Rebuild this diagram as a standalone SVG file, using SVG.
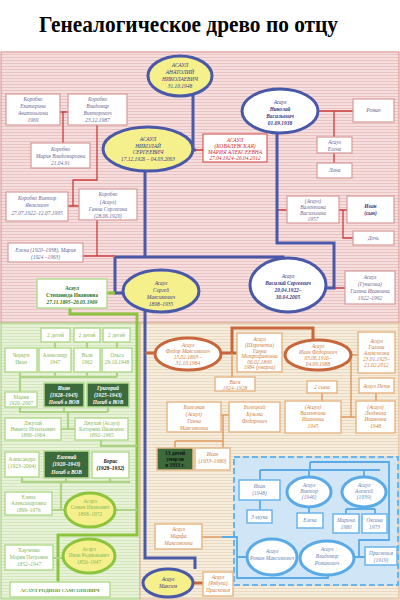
<svg xmlns="http://www.w3.org/2000/svg" width="400" height="600" viewBox="0 0 400 600">
<defs>
<pattern id="pk" width="4" height="3" patternUnits="userSpaceOnUse"><rect width="4" height="3" fill="#f6dede"/><rect width="4" height="1" fill="#e9c2c2"/></pattern>
<pattern id="gr" width="4" height="3" patternUnits="userSpaceOnUse"><rect width="4" height="3" fill="#e8f2d8"/><rect width="4" height="1" fill="#d4e6bc"/></pattern>
<pattern id="bg" width="4" height="3" patternUnits="userSpaceOnUse"><rect width="4" height="3" fill="#f6ecdc"/><rect width="4" height="1" fill="#eadac2"/></pattern>
</defs>
<style>
text{font-family:"Liberation Serif",serif;font-style:italic;font-size:5.4px;text-anchor:middle}
.db{fill:#3a3a88}.gy{fill:#6a6a96}.rd{fill:#cc2a2a}.gn{fill:#86b85a}.dk{fill:#2e7a2e;font-weight:bold}
.or{fill:#d08040}.ob2{fill:#b85a2a}.bl{fill:#6a88b8}.wt{fill:#ffffff;font-weight:bold}.bk{fill:#111;font-weight:bold}
.b{font-weight:bold}
.pb{fill:#fff;stroke:#d89a9a;stroke-width:1.2}
.rb{fill:#fff;stroke:#d04040;stroke-width:1}
.gb{fill:#fff;stroke:#b4dc90;stroke-width:1.5}
.dg{fill:#3c6a3c;stroke:#b4dc90;stroke-width:1.5}
.ob{fill:#fff;stroke:#e8b888;stroke-width:1.5}
.lb{fill:#fff;stroke:#6ab4ec;stroke-width:1.5}
.ye{fill:#f6f08c;stroke:#4a58a8;stroke-width:3}
.we{fill:#fff;stroke:#4a58a8;stroke-width:3}
.ge{fill:#f6f08c;stroke:#8cc43c;stroke-width:3}
.oe{fill:#fff;stroke:#c8663c;stroke-width:3}
.le{fill:#fff;stroke:#5aaae8;stroke-width:3}
.cb{fill:none;stroke:#4a58a8;stroke-width:3}
.cr{fill:none;stroke:#cc3c3c;stroke-width:1.3}
.cg{fill:none;stroke:#8cc43c;stroke-width:3}
.cl{fill:none;stroke:#acd484;stroke-width:2.2}
.co{fill:none;stroke:#c8663c;stroke-width:3}
.ct{fill:none;stroke:#e09a60;stroke-width:1.5}
.cu{fill:none;stroke:#5aaae8;stroke-width:1.8}
</style>
<rect width="400" height="600" fill="#fff"/>
<text x="188.5" y="32" style="font-style:normal;font-weight:bold;font-size:24px;fill:#000" textLength="299" lengthAdjust="spacingAndGlyphs">Генеалогическое древо по отцу</text>
<rect x="1" y="52" width="398" height="271" fill="url(#pk)" stroke="#dc9a9a" stroke-width="1.2"/>
<rect x="1" y="323" width="139" height="276" fill="url(#gr)" stroke="#a8d080" stroke-width="1.2"/>
<rect x="140" y="323" width="259" height="276" fill="url(#bg)" stroke="#e0b898" stroke-width="1.2"/>
<rect x="234" y="457" width="164" height="128" fill="#d0e6f6" stroke="#6ab4ec" stroke-width="2" stroke-dasharray="6,3"/>
<g id="connectors">
<path class="cr" d="M196,150H203M318,111H353M334,111V137M334,153V163M277,210H287M339,210H347M343,210V238H353M334,288H345"/>
<path class="cr" d="M60,112H68M63,112V143M97,125V180H73V206M67,206H79M97,220V256M83,256H115"/>
<path class="cb" d="M193,94V150H196M145,170V257M115,257H283V259M115,257V293H124M145,310V558H195V569M277,133V243H334V288H326"/>
<path class="cg" d="M70,308V314H137V535H58V582M107,293H115"/>
<path class="cl" d="M55,342V348M87,342V348M117,342V348M20,372V392M20,377H117M55,372V377M87,372V377M117,372V377"/>
<path class="cl" d="M20,407V412H108M64,407V412M108,407V412M68,412V429M61,429H75M101,440V446H137"/>
<path class="cl" d="M22,477V482H130M66,478V482M110,478V482M61,482V510M52,510H65M115,510H137M53,558H63"/>
<path class="co" d="M145,353H155M222,353H237M232,353V328H313V341M193,583H203"/>
<path class="ct" d="M232,353V377M351,355H358M351,355V417M341,417H356M322,393V401M376,393V401M221,415H229M223,415V449M175,441H223M175,441V448M202,537H222"/>
<path class="cu" d="M222,537H237V578H328V575M237,557H247M310,462H389V540H359V557M355,557H365M310,462V470M260,470H380M260,470V480M309,470V477M364,470V477M260,500V510M309,507V513M364,507V509M346,509H375M346,509V514M375,509V514"/>
</g>
<g id="n_anatoly"><ellipse class="ye" cx="180" cy="76" rx="32" ry="20"/><text class="db" x="180" y="67">АСАУЛ</text><text class="db" x="180" y="74">АНАТОЛИЙ</text><text class="db" x="180" y="81">НИКОЛАЕВИЧ</text><text class="db" x="180" y="88">31.10.1948</text></g>
<g id="n_nikolay_s"><ellipse class="ye" cx="148" cy="149" rx="45" ry="22"/><text class="db" x="148" y="141">АСАУЛ</text><text class="db" x="148" y="148">НИКОЛАЙ</text><text class="db" x="148" y="154">СЕРГЕЕВИЧ</text><text class="db" x="148" y="161">17.12.1926 – 04.03.2063</text></g>
<g id="n_maria_a"><rect class="rb" x="203" y="134" width="64" height="28"/><text class="rd" x="235" y="142">АСАУЛ</text><text class="rd" x="235" y="148">(КОВАЛЕВСКАЯ)</text><text class="rd" x="235" y="154">МАРИЯ АЛЕКСЕЕВНА</text><text class="rd" x="235" y="160">27.04.1924–26.04.2012</text></g>
<g id="n_nikolay_v"><ellipse class="we" cx="280" cy="111" rx="38" ry="22"/><text class="db" x="280" y="104">Асаул</text><text class="db b" x="280" y="111">Николай</text><text class="db b" x="280" y="118">Васильевич</text><text class="db b" x="280" y="125">01.09.1938</text></g>
<g id="n_roman_r"><rect class="pb" x="353" y="99" width="41" height="23"/><text class="gy" x="373.5" y="112">Роман</text></g>
<g id="n_elena_a"><rect class="pb" x="317" y="137" width="35" height="16"/><text class="gy" x="334.5" y="144">Асаул</text><text class="gy" x="334.5" y="151">Елена</text></g>
<g id="n_lina"><rect class="pb" x="317" y="163" width="35" height="15"/><text class="gy" x="334.5" y="172">Лина</text></g>
<g id="n_valentina_v"><rect class="pb" x="287" y="196" width="52" height="27"/><text class="gy" x="313" y="203">(Асаул)</text><text class="gy" x="313" y="209">Валентина</text><text class="gy" x="313" y="215">Васильевна</text><text class="gy" x="313" y="221">1957</text></g>
<g id="n_ivan_son"><rect class="pb" x="347" y="196" width="47" height="27"/><text class="db b" x="370.5" y="208">Иван</text><text class="db b" x="370.5" y="215">(сын)</text></g>
<g id="n_doch"><rect class="pb" x="353" y="231" width="41" height="14"/><text class="gy" x="373.5" y="240">Дочь</text></g>
<g id="n_vasily"><ellipse class="we" cx="288" cy="285" rx="38" ry="27"/><text class="db" x="288" y="278">Асаул</text><text class="db b" x="288" y="285">Василий Сергеевич</text><text class="db b" x="288" y="292">20.04.1922–</text><text class="db b" x="288" y="299">30.04.2005</text></g>
<g id="n_galina_g"><rect class="pb" x="345" y="271" width="50" height="33"/><text class="gy" x="370" y="279">Асаул</text><text class="gy" x="370" y="286">(Гукасова)</text><text class="gy" x="370" y="293">Галина Ивановна</text><text class="gy" x="370" y="300">1922–1992</text></g>
<g id="n_sergey"><ellipse class="ye" cx="161" cy="291" rx="38" ry="21"/><text class="db" x="161" y="285">Асаул</text><text class="db" x="161" y="292">Сергей</text><text class="db" x="161" y="299">Максимович</text><text class="db" x="161" y="306">1898–1935</text></g>
<g id="n_stepanida"><rect class="gb" x="37" y="279" width="70" height="29"/><text class="dk" x="72" y="290" style="font-style:normal">Асаул</text><text class="dk" x="72" y="297" style="font-style:normal">Степанида Ивановна</text><text class="dk" x="72" y="304">27.11.1895–26.03.1969</text></g>
<g id="n_korobko_e"><rect class="pb" x="6" y="94" width="54" height="31"/><text class="gy" x="33" y="101">Коробко</text><text class="gy" x="33" y="108">Екатерина</text><text class="gy" x="33" y="115">Анатольевна</text><text class="gy" x="33" y="122">1969</text></g>
<g id="n_korobko_vl"><rect class="pb" x="68" y="94" width="59" height="31"/><text class="gy" x="97.5" y="101">Коробко</text><text class="gy" x="97.5" y="108">Владимир</text><text class="gy" x="97.5" y="115">Викторович</text><text class="gy" x="97.5" y="122">23.12.1987</text></g>
<g id="n_korobko_m"><rect class="pb" x="31" y="143" width="59" height="25"/><text class="gy" x="60.5" y="151">Коробко</text><text class="gy" x="60.5" y="158">Мария Владимировна</text><text class="gy" x="60.5" y="165">21.04.91</text></g>
<g id="n_korobko_vi"><rect class="pb" x="6" y="192" width="62" height="29"/><text class="gy" x="37" y="200">Коробко Виктор</text><text class="gy" x="37" y="207">Яковлевич</text><text class="gy" x="37" y="215">27.07.1922–12.07.1995</text></g>
<g id="n_ganna_s"><rect class="pb" x="79" y="189" width="58" height="31"/><text class="gy" x="108" y="196">Коробко</text><text class="gy" x="108" y="204">(Асаул)</text><text class="gy" x="108" y="211">Ганна Сергеевна</text><text class="gy" x="108" y="218">(28.06.1920)</text></g>
<g id="n_elena_maria"><rect class="pb" x="8" y="243" width="75" height="19"/><text class="gy" x="45.5" y="252">Елена (1920–1938), Мария</text><text class="gy" x="45.5" y="259">(1924 –1963)</text></g>
<g id="n_deti1"><rect class="gb" x="41" y="328" width="29" height="14"/><text class="gn" x="55.5" y="337" style="font-style:normal">2 детей</text></g>
<g id="n_deti2"><rect class="gb" x="74" y="328" width="26" height="14"/><text class="gn" x="87" y="337" style="font-style:normal">2 детей</text></g>
<g id="n_deti3"><rect class="gb" x="103" y="328" width="27" height="14"/><text class="gn" x="116.5" y="337" style="font-style:normal">2 детей</text></g>
<g id="n_cherkun"><rect class="gb" x="5" y="348" width="32" height="24"/><text class="gn" x="21" y="357" style="font-style:normal">Черкун</text><text class="gn" x="21" y="364" style="font-style:normal">Иван</text></g>
<g id="n_alexandr"><rect class="gb" x="39" y="348" width="32" height="24"/><text class="gn" x="55" y="357" style="font-style:normal">Александр</text><text class="gn" x="55" y="364" style="font-style:normal">1947</text></g>
<g id="n_valya"><rect class="gb" x="74" y="348" width="26" height="24"/><text class="gn" x="87" y="357" style="font-style:normal">Валя</text><text class="gn" x="87" y="364" style="font-style:normal">1962</text></g>
<g id="n_olga"><rect class="gb" x="102" y="348" width="30" height="24"/><text class="gn" x="117" y="357" style="font-style:normal">Ольга</text><text class="gn" x="117" y="364" style="font-style:normal">29.10.1948</text></g>
<g id="n_maria_ch"><rect class="gb" x="5" y="392" width="32" height="15"/><text class="gn" x="21" y="399" style="font-style:normal">Мария</text><text class="gn" x="21" y="405" style="font-style:normal">1920–2007</text></g>
<g id="n_ivan_d"><rect class="dg" x="44" y="383" width="40" height="24"/><text class="wt" x="64" y="390">Иван</text><text class="wt" x="64" y="397">(1928–1945)</text><text class="wt" x="64" y="404">Погиб в ВОВ</text></g>
<g id="n_grigoriy"><rect class="dg" x="87" y="383" width="42" height="24"/><text class="wt" x="108" y="390">Григорий</text><text class="wt" x="108" y="397">(1925–1943)</text><text class="wt" x="108" y="404">Погиб в ВОВ</text></g>
<g id="n_nikita"><rect class="gb" x="5" y="418" width="56" height="22"/><text class="gn" x="33" y="425" style="font-style:normal">Джулай</text><text class="gn" x="33" y="431" style="font-style:normal">Никита Игнатьевич</text><text class="gn" x="33" y="437" style="font-style:normal">1890–1964</text></g>
<g id="n_katerina"><rect class="gb" x="75" y="418" width="53" height="22"/><text class="gn" x="101.5" y="425" style="font-style:normal">Джулай (Асаул)</text><text class="gn" x="101.5" y="431" style="font-style:normal">Катерина Ивановна</text><text class="gn" x="101.5" y="437" style="font-style:normal">1892–1965</text></g>
<g id="n_alexandra"><rect class="gb" x="5" y="452" width="34" height="25"/><text class="gn" x="22" y="461" style="font-style:normal">Александра</text><text class="gn" x="22" y="468" style="font-style:normal">(1923–2004)</text></g>
<g id="n_evgeny"><rect class="dg" x="44" y="451" width="45" height="27"/><text class="wt" x="66.5" y="459">Евгений</text><text class="wt" x="66.5" y="466">(1920–1943)</text><text class="wt" x="66.5" y="474">Погиб в ВОВ</text></g>
<g id="n_boris"><rect class="gb" x="92" y="452" width="37" height="26"/><text class="bk" x="110.5" y="463">Борис</text><text class="bk" x="110.5" y="470">(1928–1932)</text></g>
<g id="n_elena_al"><rect class="gb" x="5" y="492" width="47" height="23"/><text class="gn" x="28.5" y="499" style="font-style:normal">Елена</text><text class="gn" x="28.5" y="505" style="font-style:normal">Александровна</text><text class="gn" x="28.5" y="512" style="font-style:normal">1899–1976</text></g>
<g id="n_semyon"><ellipse class="ge" cx="90" cy="510" rx="25" ry="17"/><text class="gn" x="90" y="503" style="font-style:normal">Асаул</text><text class="gn" x="90" y="509" style="font-style:normal">Семен Иванович</text><text class="gn" x="90" y="516" style="font-style:normal">1898–1972</text></g>
<g id="n_kharchenko"><rect class="gb" x="5" y="545" width="48" height="25"/><text class="gn" x="29" y="552" style="font-style:normal">Харченко</text><text class="gn" x="29" y="559" style="font-style:normal">Мария Петровна</text><text class="gn" x="29" y="566">1852–1947</text></g>
<g id="n_ivan_r"><ellipse class="ge" cx="89" cy="556" rx="26" ry="17"/><text class="gn" x="89" y="551" style="font-style:normal">Асаул</text><text class="gn" x="89" y="557" style="font-style:normal">Иван Родионович</text><text class="gn" x="89" y="564" style="font-style:normal">1850–1947</text></g>
<g id="n_rodion"><rect class="gb" x="10" y="582" width="100" height="15"/><text class="dk" x="60" y="592" style="font-style:normal;font-size:5px;fill:#5a9a3a">АСАУЛ РОДИОН САМСОНОВИЧ</text></g>
<g id="n_fedor"><ellipse class="oe" cx="188" cy="354" rx="33" ry="16"/><text class="or" x="188" y="347">Асаул</text><text class="or" x="188" y="353">Федор Максимович</text><text class="or" x="188" y="359">15.02.1893 –</text><text class="or" x="188" y="365">31.10.1984</text></g>
<g id="n_ganna_sh"><rect class="ob" x="237" y="333" width="45" height="39"/><text class="or" x="259.5" y="341">Асаул</text><text class="or" x="259.5" y="347">(Шеремета)</text><text class="or" x="259.5" y="353">Ганна</text><text class="or" x="259.5" y="358">Митрофановна</text><text class="or" x="259.5" y="364">06.02.1890</text><text class="or" x="259.5" y="369">1984 (умерла)</text></g>
<g id="n_vasya"><rect class="ob" x="215" y="377" width="40" height="14"/><text class="or" x="235" y="383.5">Вася</text><text class="or" x="235" y="389.5">1924–1928</text></g>
<g id="n_ivan_f"><ellipse class="oe" cx="318" cy="355" rx="33" ry="15"/><text class="or" x="318" y="348">Асаул</text><text class="or" x="318" y="354">Иван Федорович</text><text class="or" x="318" y="360">05.06.1916–</text><text class="or" x="318" y="366">04.09.1988</text></g>
<g id="n_galina_a"><rect class="ob" x="358" y="332" width="37" height="41"/><text class="or" x="376.5" y="343">Асаул</text><text class="or" x="376.5" y="349">Галина</text><text class="or" x="376.5" y="355">Алексеевна</text><text class="or" x="376.5" y="361">23.01.1925–</text><text class="or" x="376.5" y="367">21.02.2012</text></g>
<g id="n_2syna"><rect class="ob" x="307" y="381" width="30" height="12"/><text class="or" x="322" y="389">2 сына</text></g>
<g id="n_petya"><rect class="ob" x="359" y="378" width="35" height="15"/><text class="or" x="376.5" y="387.5">Асаул Петя</text></g>
<g id="n_valentina_i"><rect class="ob" x="285" y="401" width="56" height="32"/><text class="or" x="313" y="409">(Асаул)</text><text class="or" x="313" y="415">Валентина</text><text class="or" x="313" y="421">Ивановна</text><text class="or" x="313" y="428">1945</text></g>
<g id="n_lyudmila"><rect class="ob" x="356" y="401" width="39" height="32"/><text class="or" x="375.5" y="409">(Асаул)</text><text class="or" x="375.5" y="415">Людмила</text><text class="or" x="375.5" y="421">Ивановна</text><text class="or" x="375.5" y="428">1948</text></g>
<g id="n_ganna_m"><rect class="ob" x="167" y="402" width="54" height="30"/><text class="or" x="194" y="409">Билецкая</text><text class="or" x="194" y="416">(Асаул)</text><text class="or" x="194" y="423">Ганна</text><text class="or" x="194" y="430">Максимовна</text></g>
<g id="n_kuzma"><rect class="ob" x="229" y="402" width="51" height="30"/><text class="or" x="254.5" y="409">Билецкий</text><text class="or" x="254.5" y="416">Кузьма</text><text class="or" x="254.5" y="423">Федорович</text></g>
<g id="n_13deti"><rect class="dg" x="157" y="448" width="36" height="22" style="stroke:#e8b888"/><text class="bk" x="175" y="455" style="font-style:normal">13 детей</text><text class="bk" x="175" y="461" style="font-style:normal">умерли</text><text class="bk" x="175" y="467" style="font-style:normal">в 1933 г.</text></g>
<g id="n_ivan_k"><rect class="ob" x="195" y="448" width="35" height="22"/><text class="or" x="212.5" y="456">Иван</text><text class="or" x="212.5" y="463">(1933–1980)</text></g>
<g id="n_marfa"><rect class="ob" x="155" y="524" width="47" height="25"/><text class="or" x="178.5" y="531">Асаул</text><text class="or" x="178.5" y="538">Марфа</text><text class="or" x="178.5" y="545">Максимовна</text></g>
<g id="n_maxim"><ellipse class="ye" cx="168" cy="583" rx="25" ry="14"/><text class="db" x="168" y="581">Асаул</text><text class="db" x="168" y="588">Максим</text></g>
<g id="n_praskovya_r"><rect class="ob" x="203" y="572" width="30" height="24"/><text class="or" x="218" y="579">Асаул</text><text class="or" x="218" y="585">(Рябуха)</text><text class="or" x="218" y="592">Прасковья</text></g>
<g id="n_ivan_1948"><rect class="lb" x="239" y="480" width="41" height="20"/><text class="bl" x="259.5" y="488">Иван</text><text class="bl" x="259.5" y="495">(1948)</text></g>
<g id="n_3vnuka"><rect class="lb" x="247" y="510" width="25" height="13"/><text class="bl" x="259.5" y="518.5">3 внука</text></g>
<g id="n_viktor"><ellipse class="le" cx="309" cy="492" rx="22" ry="15"/><text class="bl" x="309" y="487">Асаул</text><text class="bl" x="309" y="493">Виктор</text><text class="bl" x="309" y="499">(1946)</text></g>
<g id="n_elena_v"><rect class="lb" x="297" y="513" width="26" height="15"/><text class="bl" x="310" y="522">Елена</text></g>
<g id="n_alexey"><ellipse class="le" cx="364" cy="492" rx="22" ry="15"/><text class="bl" x="364" y="487">Асаул</text><text class="bl" x="364" y="493">Алексей</text><text class="bl" x="364" y="499">(1939)</text></g>
<g id="n_marina"><rect class="lb" x="333" y="514" width="26" height="19"/><text class="bl" x="346" y="522">Марина</text><text class="bl" x="346" y="529">1980</text></g>
<g id="n_oksana"><rect class="lb" x="362" y="514" width="25" height="19"/><text class="bl" x="374.5" y="522">Оксана</text><text class="bl" x="374.5" y="529">1973</text></g>
<g id="n_roman_m"><ellipse class="le" cx="272" cy="557" rx="25" ry="18"/><text class="bl" x="272" y="553">Асаул</text><text class="bl" x="272" y="560">Роман Максимович</text></g>
<g id="n_vladimir"><ellipse class="le" cx="327" cy="558" rx="27" ry="17"/><text class="bl" x="327" y="551">Асаул</text><text class="bl" x="327" y="558">Владимир</text><text class="bl" x="327" y="565">Романович</text></g>
<g id="n_praskovya"><rect class="lb" x="365" y="547" width="32" height="18"/><text class="bl" x="381" y="554.5">Прасковья</text><text class="bl" x="381" y="561.5">(1919)</text></g>
</svg>
